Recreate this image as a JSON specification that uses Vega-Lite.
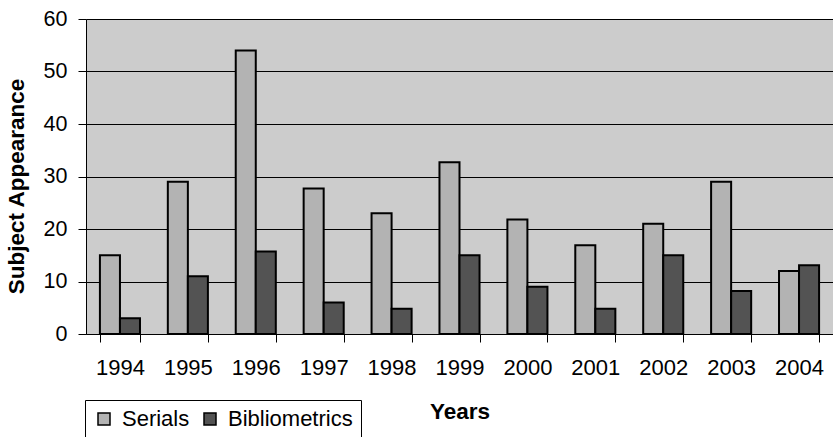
{
  "$schema": "https://vega.github.io/schema/vega-lite/v6.json",
  "width": 747,
  "height": 315,
  "autosize": "none",
  "padding": {"left": 86, "top": 19, "right": 0, "bottom": 103},
  "background": "white",
  "config": {
    "font": "Liberation Sans",
    "view": {"fill": "#CCCCCC", "stroke": null}
  },
  "data": {
    "values": [
      {"year": "1994", "series": "Serials", "value": 15},
      {"year": "1994", "series": "Bibliometrics", "value": 3},
      {"year": "1995", "series": "Serials", "value": 29},
      {"year": "1995", "series": "Bibliometrics", "value": 11},
      {"year": "1996", "series": "Serials", "value": 54},
      {"year": "1996", "series": "Bibliometrics", "value": 15.7},
      {"year": "1997", "series": "Serials", "value": 27.7},
      {"year": "1997", "series": "Bibliometrics", "value": 6},
      {"year": "1998", "series": "Serials", "value": 23},
      {"year": "1998", "series": "Bibliometrics", "value": 4.8},
      {"year": "1999", "series": "Serials", "value": 32.7},
      {"year": "1999", "series": "Bibliometrics", "value": 15},
      {"year": "2000", "series": "Serials", "value": 21.8},
      {"year": "2000", "series": "Bibliometrics", "value": 9},
      {"year": "2001", "series": "Serials", "value": 16.9},
      {"year": "2001", "series": "Bibliometrics", "value": 4.8},
      {"year": "2002", "series": "Serials", "value": 21},
      {"year": "2002", "series": "Bibliometrics", "value": 15},
      {"year": "2003", "series": "Serials", "value": 29},
      {"year": "2003", "series": "Bibliometrics", "value": 8.2},
      {"year": "2004", "series": "Serials", "value": 12},
      {"year": "2004", "series": "Bibliometrics", "value": 13.1}
    ]
  },
  "mark": {"type": "bar", "stroke": "black", "strokeWidth": 2},
  "encoding": {
    "x": {
      "field": "year",
      "type": "nominal",
      "scale": {"paddingInner": 0.41, "paddingOuter": 0.205},
      "axis": {
        "title": "Years",
        "titleFontSize": 22.5,
        "titleFontWeight": "bold",
        "titleColor": "black",
        "titleY": 77,
        "titleBaseline": "middle",
        "labelAngle": 0,
        "labelFontSize": 22,
        "labelColor": "black",
        "labelPadding": 15,
        "tickBand": "extent",
        "tickSize": 8,
        "tickColor": "black",
        "domainColor": "black",
        "domainWidth": 1,
        "grid": false
      }
    },
    "xOffset": {"field": "series", "sort": ["Serials", "Bibliometrics"]},
    "y": {
      "field": "value",
      "type": "quantitative",
      "scale": {"domain": [0, 60], "nice": false},
      "axis": {
        "title": "Subject Appearance",
        "titleFontSize": 22.5,
        "titleFontWeight": "bold",
        "titleColor": "black",
        "titleAngle": 270,
        "titleX": -70,
        "titleY": 167,
        "titleAlign": "center",
        "titleBaseline": "middle",
        "values": [0, 10, 20, 30, 40, 50, 60],
        "labelFontSize": 21.5,
        "labelColor": "black",
        "labelPadding": 11,
        "tickSize": 8,
        "tickColor": "black",
        "domainColor": "black",
        "grid": true,
        "gridColor": "black",
        "gridWidth": 1,
        "gridOpacity": 1
      }
    },
    "color": {
      "field": "series",
      "type": "nominal",
      "sort": ["Serials", "Bibliometrics"],
      "scale": {"domain": ["Serials", "Bibliometrics"], "range": ["#B3B3B3", "#535353"]},
      "legend": {
        "title": null,
        "orient": "none",
        "legendX": -1,
        "legendY": 381,
        "direction": "horizontal",
        "fillColor": "white",
        "strokeColor": "black",
        "padding": 8,
        "symbolType": "square",
        "symbolSize": 144,
        "symbolStrokeColor": "black",
        "symbolStrokeWidth": 1.5,
        "symbolOpacity": 1,
        "labelFontSize": 22,
        "labelColor": "black",
        "labelOffset": 7,
        "columnPadding": 9
      }
    }
  }
}
